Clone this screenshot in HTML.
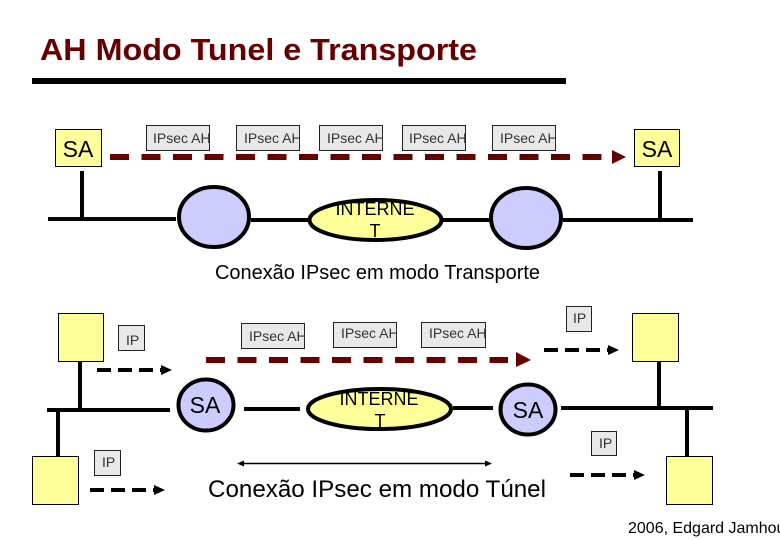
<!DOCTYPE html>
<html><head><meta charset="utf-8">
<style>
html,body{margin:0;padding:0;background:#fff;width:780px;height:540px;overflow:hidden}
svg{display:block}
text{font-family:"Liberation Sans",sans-serif;fill:#000}
.pk{fill:#e8e8e8;stroke:#222;stroke-width:1}
.pt{font-size:14px;fill:#333}
.y{fill:#ffff99;stroke:#000;stroke-width:1}
.l{stroke:#000;stroke-width:4;fill:none}
.c{fill:#ccccff;stroke:#000;stroke-width:4}
.e{fill:#ffff99;stroke:#000;stroke-width:4}
.d{stroke:#660000;stroke-width:6;stroke-dasharray:19 12.5;fill:none}
.b{stroke:#000;stroke-width:4;stroke-dasharray:14 7;fill:none}
</style></head><body>
<svg width="780" height="540" viewBox="0 0 780 540" xmlns="http://www.w3.org/2000/svg">
<text x="40" y="60" font-size="31" font-weight="bold" style="fill:#660000" textLength="437" lengthAdjust="spacingAndGlyphs">AH Modo Tunel e Transporte</text>
<rect x="32" y="78" width="534" height="6" fill="#000"/>

<!-- top: network -->
<path class="l" d="M48 219H176M82 171V219M251 220H310M443 220H490M563 220H693M660 171V220"/>
<ellipse class="c" cx="214" cy="217" rx="35" ry="30"/>
<ellipse class="c" cx="526" cy="218" rx="35" ry="30"/>
<ellipse class="e" cx="375.500" cy="220" rx="66" ry="20"/>
<text x="375" y="215" font-size="18" text-anchor="middle">INTERNE</text>
<text x="375" y="237" font-size="18" text-anchor="middle">T</text>

<rect class="y" x="55.500" y="129.500" width="46" height="37"/>
<text x="78" y="157" font-size="23" text-anchor="middle">SA</text>
<rect class="y" x="634.500" y="129.500" width="45" height="37"/>
<text x="657" y="157" font-size="23" text-anchor="middle">SA</text>

<path class="d" d="M110 157H603"/>
<polygon points="612,150 626,157 612,164" fill="#660000"/>

<g>
<rect class="pk" x="146.500" y="125.500" width="63" height="25"/>
<svg x="146" y="125" width="64" height="26"><text class="pt" x="7" y="18" style="fill:#333">IPsec AH</text></svg>
<rect class="pk" x="236.500" y="125.500" width="63" height="25"/>
<svg x="236" y="125" width="64" height="26"><text class="pt" x="8" y="18" style="fill:#333">IPsec AH</text></svg>
<rect class="pk" x="319.500" y="125.500" width="63" height="25"/>
<svg x="319" y="125" width="64" height="26"><text class="pt" x="8" y="18" style="fill:#333">IPsec AH</text></svg>
<rect class="pk" x="402.500" y="125.500" width="63" height="25"/>
<svg x="402" y="125" width="64" height="26"><text class="pt" x="7" y="18" style="fill:#333">IPsec AH</text></svg>
<rect class="pk" x="492.500" y="125.500" width="63" height="25"/>
<svg x="492" y="125" width="64" height="26"><text class="pt" x="8" y="18" style="fill:#333">IPsec AH</text></svg>
</g>

<text x="215" y="279" font-size="20" textLength="325" lengthAdjust="spacingAndGlyphs">Conexão IPsec em modo Transporte</text>

<!-- bottom: network -->
<path class="l" d="M47 410H170M80 361V410M58 410V457M244 409H300M453 408H493M561 408H713M659 361V408M687 408V456"/>
<rect class="y" x="58.500" y="313.500" width="45" height="48"/>
<rect class="y" x="32.500" y="456.500" width="46" height="48"/>
<rect class="y" x="632.500" y="313.500" width="46" height="48"/>
<rect class="y" x="666.500" y="456.500" width="46" height="48"/>

<ellipse class="c" cx="206" cy="405" rx="27.500" ry="25.500"/>
<text x="205" y="413" font-size="23" text-anchor="middle">SA</text>
<ellipse class="c" cx="528" cy="409.500" rx="27.500" ry="25"/>
<text x="528" y="418" font-size="23" text-anchor="middle">SA</text>
<ellipse class="e" cx="379.500" cy="409" rx="71.500" ry="20"/>
<text x="379" y="405" font-size="18" text-anchor="middle">INTERNE</text>
<text x="380" y="427" font-size="18" text-anchor="middle">T</text>

<path class="d" d="M206 360H508"/>
<polygon points="516,352 531,360 516,367" fill="#660000"/>

<rect class="pk" x="118.500" y="325.500" width="26" height="25"/>
<text class="pt" x="126" y="345" style="fill:#333">IP</text>
<rect class="pk" x="94.500" y="450.500" width="26" height="25"/>
<text class="pt" x="102" y="467" style="fill:#333">IP</text>
<rect class="pk" x="566.500" y="306.500" width="25" height="25"/>
<text class="pt" x="573" y="323" style="fill:#333">IP</text>
<rect class="pk" x="591.500" y="431.500" width="25" height="24"/>
<text class="pt" x="599" y="448" style="fill:#333">IP</text>

<rect class="pk" x="241.500" y="323.500" width="63" height="25"/>
<svg x="241" y="323" width="64" height="26"><text class="pt" x="8" y="18" style="fill:#333">IPsec AH</text></svg>
<rect class="pk" x="333.500" y="322.500" width="63" height="25"/>
<svg x="333" y="322" width="64" height="26"><text class="pt" x="8" y="16" style="fill:#333">IPsec AH</text></svg>
<rect class="pk" x="421.500" y="322.500" width="64" height="25"/>
<svg x="421" y="322" width="65" height="26"><text class="pt" x="8" y="16" style="fill:#333">IPsec AH</text></svg>

<path class="b" d="M97 370H161"/>
<polygon points="161,365 172,370 161,375" fill="#000"/>
<path class="b" d="M90 490H154"/>
<polygon points="154,485 165,490 154,495" fill="#000"/>
<path class="b" d="M544 350H608"/>
<polygon points="608,345 619,350 608,355" fill="#000"/>
<path class="b" d="M570 475H634"/>
<polygon points="634,470 645,475 634,480" fill="#000"/>

<path d="M240 463.500H490" stroke="#000" stroke-width="1.500"/>
<polygon points="237,463.500 244,460.500 244,466.500" fill="#000"/>
<polygon points="492,463.500 485,460.500 485,466.500" fill="#000"/>

<text x="208" y="497" font-size="24" textLength="338" lengthAdjust="spacingAndGlyphs">Conexão IPsec em modo Túnel</text>
<text x="628" y="533" font-size="16">2006, Edgard Jamhour</text>
</svg>
</body></html>
